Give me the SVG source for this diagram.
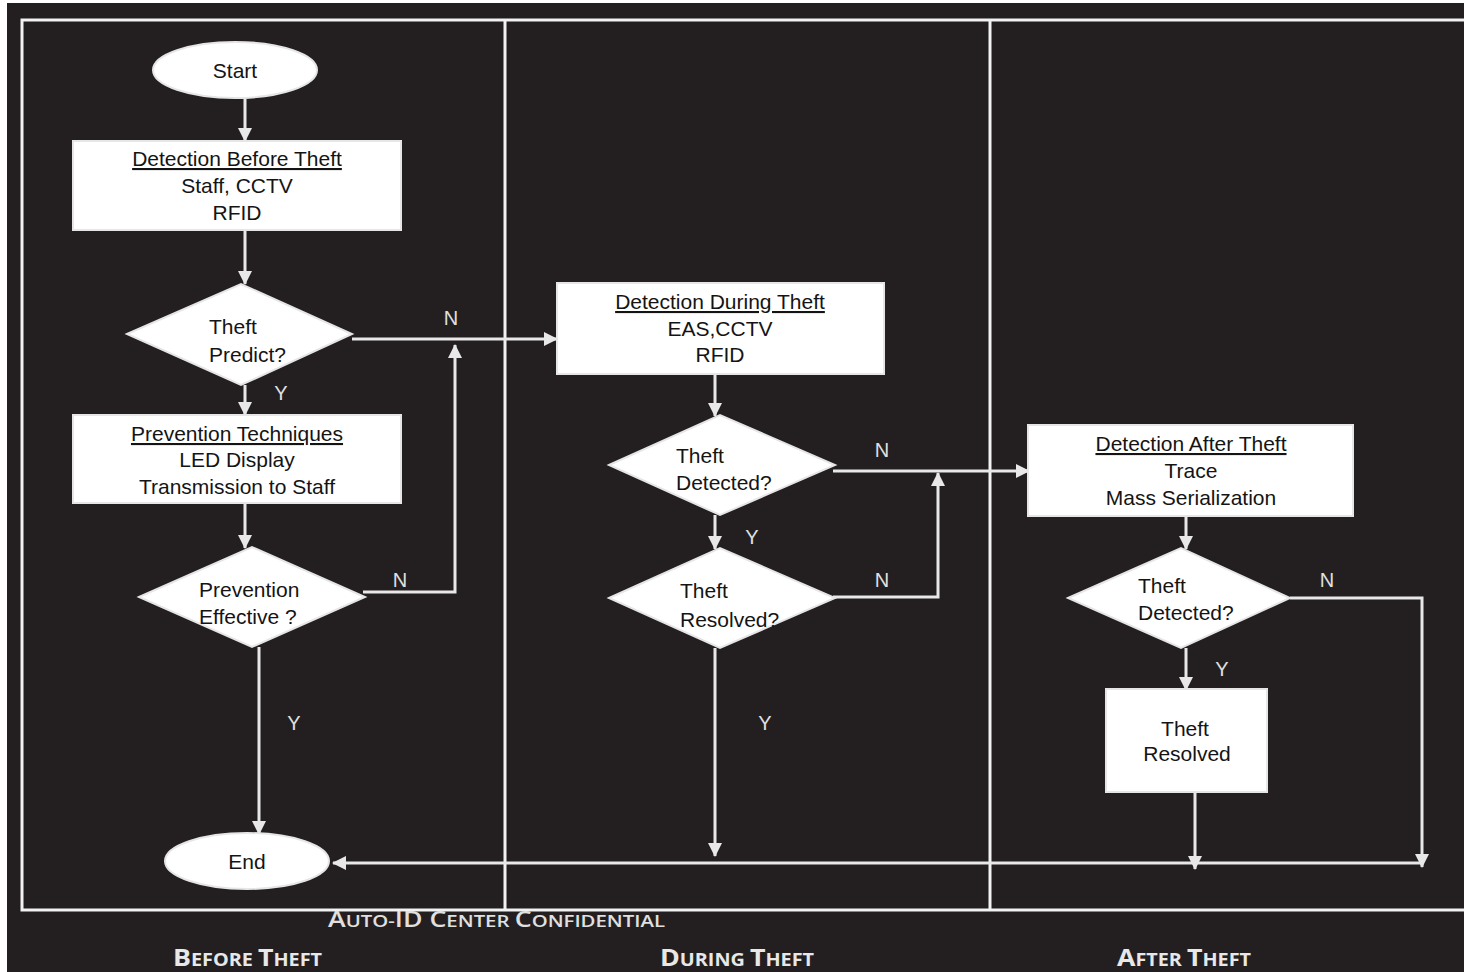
<svg xmlns="http://www.w3.org/2000/svg" width="1464" height="972" viewBox="0 0 1464 972">
  <defs>
    <marker id="arrow" markerUnits="userSpaceOnUse" markerWidth="14" markerHeight="14" refX="13" refY="7" orient="auto">
      <path d="M0,0 L14,7 L0,14 z" fill="#e8e8e8"/>
    </marker>
    <style>
      .frame { fill: none; stroke: #f2f2f2; stroke-width: 3; }
      .shape { fill: #ffffff; stroke: #e6e6e6; stroke-width: 2; }
      .link { fill: none; stroke: #e8e8e8; stroke-width: 3; marker-end: url(#arrow); }
      .t { font-family: "Liberation Sans", Arial, sans-serif; font-size: 21px; fill: #141414; }
      .c { text-anchor: middle; }
      .u { text-decoration: underline; }
      .lbl { font-family: "Liberation Sans", Arial, sans-serif; font-size: 20px; fill: #e0e0e0; text-anchor: middle; }
      .foot { font-family: "Open Sans", "Liberation Sans", sans-serif; font-weight: bold; fill: #e8e8e8; }
      .conf { font-family: "Open Sans", "Liberation Sans", sans-serif; font-weight: 600; fill: #e0e0e0; }
    </style>
  </defs>

  <!-- page -->
  <rect x="0" y="0" width="1464" height="972" fill="#ffffff"/>
  <rect x="7" y="3" width="1457" height="969" fill="#231f20"/>

  <!-- swimlane frame -->
  <g id="lanes">
    <path class="frame" d="M1464,20 H22 V910 H1464"/>
    <line class="frame" x1="505" y1="20" x2="505" y2="910"/>
    <line class="frame" x1="990" y1="20" x2="990" y2="910"/>
  </g>

  <!-- connectors -->
  <g id="connectors">
    <path class="link" d="M245,99 V141"/>
    <path class="link" d="M245,230 V284"/>
    <path class="link" d="M245,385 V415"/>
    <path class="link" d="M245,503 V548"/>
    <path class="link" d="M352,339 H557"/>
    <path class="link" d="M363,592 H455 V345"/>
    <path class="link" d="M259,647 V834"/>
    <path class="link" d="M715,374 V416"/>
    <path class="link" d="M833,471 H1029"/>
    <path class="link" d="M715,515 V549"/>
    <path class="link" d="M833,597 H938 V473"/>
    <path class="link" d="M715,648 V856"/>
    <path class="link" d="M1186,516 V549"/>
    <path class="link" d="M1290,598 H1422 V867"/>
    <path class="link" d="M1186,648 V690"/>
    <path class="link" d="M1195,792 V869"/>
    <path class="link" d="M1422,863 H333"/>
  </g>

  <!-- edge labels -->
  <g id="edge-labels">
    <text class="lbl" x="451" y="325">N</text>
    <text class="lbl" x="281" y="400">Y</text>
    <text class="lbl" x="400" y="587">N</text>
    <text class="lbl" x="294" y="730">Y</text>
    <text class="lbl" x="882" y="457">N</text>
    <text class="lbl" x="752" y="544">Y</text>
    <text class="lbl" x="882" y="587">N</text>
    <text class="lbl" x="765" y="730">Y</text>
    <text class="lbl" x="1327" y="587">N</text>
    <text class="lbl" x="1222" y="676">Y</text>
  </g>

  <g id="start">
    <ellipse class="shape" cx="235" cy="70" rx="82" ry="28"/>
    <text class="t c" x="235" y="78">Start</text>
  </g>

  <g id="detect-before">
    <rect class="shape" x="73" y="141" width="328" height="89"/>
    <text class="t c u" x="237" y="166">Detection Before Theft</text>
    <text class="t c" x="237" y="193">Staff, CCTV</text>
    <text class="t c" x="237" y="220">RFID</text>
  </g>

  <g id="theft-predict">
    <polygon class="shape" points="127,334 241,284 352,334 241,385"/>
    <text class="t" x="209" y="334">Theft</text>
    <text class="t" x="209" y="362">Predict?</text>
  </g>

  <g id="prevention">
    <rect class="shape" x="73" y="415" width="328" height="88"/>
    <text class="t c u" x="237" y="441">Prevention Techniques</text>
    <text class="t c" x="237" y="467">LED Display</text>
    <text class="t c" x="237" y="494">Transmission to Staff</text>
  </g>

  <g id="prevention-effective">
    <polygon class="shape" points="139,597 252,547 365,597 252,647"/>
    <text class="t" x="199" y="597">Prevention</text>
    <text class="t" x="199" y="624">Effective ?</text>
  </g>

  <g id="end">
    <ellipse class="shape" cx="247" cy="861" rx="82" ry="28"/>
    <text class="t c" x="247" y="869">End</text>
  </g>

  <g id="detect-during">
    <rect class="shape" x="557" y="283" width="327" height="91"/>
    <text class="t c u" x="720" y="309">Detection During Theft</text>
    <text class="t c" x="720" y="336">EAS,CCTV</text>
    <text class="t c" x="720" y="362">RFID</text>
  </g>

  <g id="during-detected">
    <polygon class="shape" points="609,465 720,415 835,465 720,515"/>
    <text class="t" x="676" y="463">Theft</text>
    <text class="t" x="676" y="490">Detected?</text>
  </g>

  <g id="during-resolved">
    <polygon class="shape" points="609,598 720,548 835,598 720,648"/>
    <text class="t" x="680" y="598">Theft</text>
    <text class="t" x="680" y="627">Resolved?</text>
  </g>

  <g id="detect-after">
    <rect class="shape" x="1028" y="425" width="325" height="91"/>
    <text class="t c u" x="1191" y="451">Detection After Theft</text>
    <text class="t c" x="1191" y="478">Trace</text>
    <text class="t c" x="1191" y="505">Mass Serialization</text>
  </g>

  <g id="after-detected">
    <polygon class="shape" points="1068,598 1181,548 1290,598 1181,648"/>
    <text class="t" x="1138" y="593">Theft</text>
    <text class="t" x="1138" y="620">Detected?</text>
  </g>

  <g id="after-resolved">
    <rect class="shape" x="1106" y="689" width="161" height="103"/>
    <text class="t c" x="1185" y="736">Theft</text>
    <text class="t c" x="1187" y="761">Resolved</text>
  </g>

  <!-- footer captions -->
  <g id="footer">
    <text class="conf" x="328" y="927" textLength="337" lengthAdjust="spacingAndGlyphs"><tspan font-size="21">A</tspan><tspan font-size="16">UTO-</tspan><tspan font-size="21">ID C</tspan><tspan font-size="16">ENTER </tspan><tspan font-size="21">C</tspan><tspan font-size="16">ONFIDENTIAL</tspan></text>
    <text class="foot" x="173" y="966" textLength="149" lengthAdjust="spacingAndGlyphs"><tspan font-size="23">B</tspan><tspan font-size="17">EFORE </tspan><tspan font-size="23">T</tspan><tspan font-size="17">HEFT</tspan></text>
    <text class="foot" x="660" y="966" textLength="154" lengthAdjust="spacingAndGlyphs"><tspan font-size="23">D</tspan><tspan font-size="17">URING </tspan><tspan font-size="23">T</tspan><tspan font-size="17">HEFT</tspan></text>
    <text class="foot" x="1117" y="966" textLength="134" lengthAdjust="spacingAndGlyphs"><tspan font-size="23">A</tspan><tspan font-size="17">FTER </tspan><tspan font-size="23">T</tspan><tspan font-size="17">HEFT</tspan></text>
  </g>
</svg>
